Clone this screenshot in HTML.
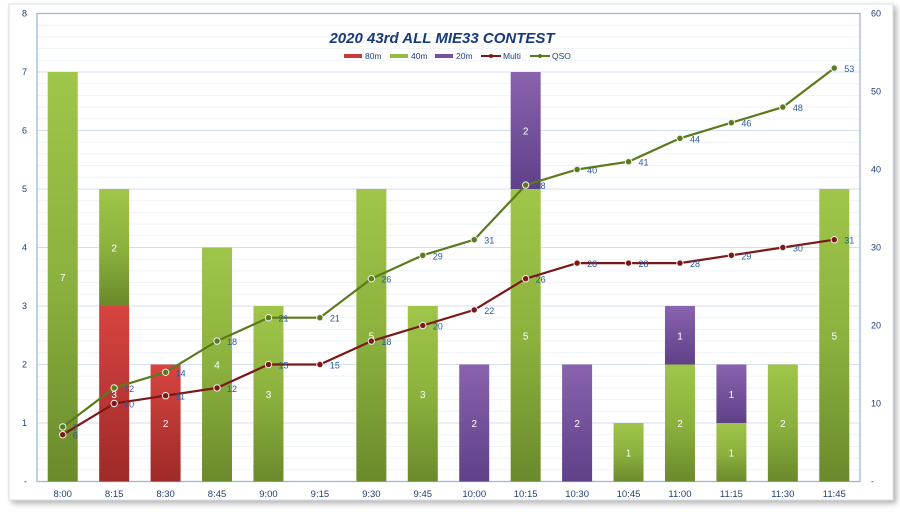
<!DOCTYPE html>
<html><head><meta charset="utf-8"><style>
html,body{margin:0;padding:0;background:#fff;}
svg{display:block;font-family:"Liberation Sans",sans-serif;}
</style></head><body>
<svg id="s" width="900" height="512" xmlns="http://www.w3.org/2000/svg">
<defs>
<linearGradient id="gG" x1="0" y1="0" x2="0" y2="1"><stop offset="0" stop-color="#9fc54a"/><stop offset="0.5" stop-color="#8cb23e"/><stop offset="1" stop-color="#6b8a2c"/></linearGradient>
<linearGradient id="gR" x1="0" y1="0" x2="0" y2="1"><stop offset="0" stop-color="#d84440"/><stop offset="1" stop-color="#9e2a28"/></linearGradient>
<linearGradient id="gP" x1="0" y1="0" x2="0" y2="1"><stop offset="0" stop-color="#8a63ad"/><stop offset="1" stop-color="#5f4189"/></linearGradient>
<filter id="sh" x="-5%" y="-5%" width="110%" height="110%"><feDropShadow dx="3" dy="3" stdDeviation="3" flood-color="#000" flood-opacity="0.3"/></filter>
</defs>
<rect x="9" y="4" width="884" height="496" fill="#fff" stroke="#d8e0ea" filter="url(#sh)"/>
<g id="g"></g>
</svg>
<script>
var g=document.getElementById('g'),h='';
var L=37,R=860,T=13.5,B=481.5,u=(B-T)/8;
function y8(v){return B-v*u}function y60(v){return B-v*(B-T)/60}
for(var i=0;i<=40;i++){var yy=B-i*u/5;if(i%5)h+='<line x1="'+L+'" x2="'+R+'" y1="'+yy+'" y2="'+yy+'" stroke="#eef2f8" stroke-width="1"/>';}
for(var i=1;i<=8;i++){var yy=y8(i);h+='<line x1="'+L+'" x2="'+R+'" y1="'+yy+'" y2="'+yy+'" stroke="#d3def0" stroke-width="1"/>';}
h+='<rect x="'+L+'" y="'+T+'" width="'+(R-L)+'" height="'+(B-T)+'" fill="none" stroke="#9fb6d8" stroke-width="1.3"/>';
for(var i=0;i<=8;i++)h+='<text x="27" y="'+(y8(i)+3)+'" font-size="9" fill="#1f3f7a" text-anchor="end">'+(i?i:'-')+'</text>';
for(var i=0;i<=6;i++)h+='<text x="871" y="'+(y8(i*8/6)+3)+'" font-size="9" fill="#1f3f7a">'+(i?i*10:'-')+'</text>';
var cats=['8:00','8:15','8:30','8:45','9:00','9:15','9:30','9:45','10:00','10:15','10:30','10:45','11:00','11:15','11:30','11:45'];
var r80=[0,3,2,0,0,0,0,0,0,0,0,0,0,0,0,0],g40=[7,2,0,4,3,0,5,3,0,5,0,1,2,1,2,5],p20=[0,0,0,0,0,0,0,0,2,2,2,0,1,1,0,0];
var Q=[7,12,14,18,21,21,26,29,31,38,40,41,44,46,48,53],M=[6,10,11,12,15,15,18,20,22,26,28,28,28,29,30,31];
var w=(R-L)/16;function cx(i){return L+w*(i+0.5)}
for(var i=0;i<16;i++){var x=cx(i),b=0;
 h+='<text x="'+x+'" y="497" font-size="9.5" fill="#1f3f7a" text-anchor="middle">'+cats[i]+'</text>';
 [[r80[i],'gR'],[g40[i],'gG'],[p20[i],'gP']].forEach(function(s){if(!s[0])return;var y1=y8(b+s[0]),y0=y8(b);
  h+='<rect x="'+(x-15)+'" y="'+y1+'" width="30" height="'+(y0-y1)+'" fill="url(#'+s[1]+')"/>';
  h+='<text x="'+x+'" y="'+((y0+y1)/2+4)+'" font-size="10" fill="#fff" text-anchor="middle">'+s[0]+'</text>';b+=s[0];});}
function line(d,c){var p=d.map(function(v,i){return cx(i)+','+y60(v)}).join(' ');
 h+='<polyline points="'+p+'" fill="none" stroke="'+c+'" stroke-width="2.2"/>';
 d.forEach(function(v,i){h+='<circle cx="'+cx(i)+'" cy="'+y60(v)+'" r="3.2" fill="'+c+'" stroke="#f0f0f0" stroke-width="1"/>';
 h+='<text x="'+(cx(i)+10)+'" y="'+(y60(v)+4)+'" font-size="9" fill="#2a5aa0">'+v+'</text>';});}
line(M,'#7b1717');line(Q,'#5b7a1c');
h+='<text x="442" y="43" font-size="15" font-weight="bold" font-style="italic" fill="#173a7a" text-anchor="middle">2020 43rd ALL MIE33 CONTEST</text>';
var lg=[['#c83a36','80m',344,'b'],['#92bb42','40m',390,'b'],['#7450a0','20m',435,'b'],['#7b1717','Multi',481,'l'],['#5b7a1c','QSO',530,'l']];
lg.forEach(function(l){if(l[3]=='b')h+='<rect x="'+l[2]+'" y="54" width="18" height="4" fill="'+l[0]+'"/>';
 else{h+='<line x1="'+l[2]+'" x2="'+(l[2]+20)+'" y1="56" y2="56" stroke="'+l[0]+'" stroke-width="2"/><circle cx="'+(l[2]+10)+'" cy="56" r="2" fill="'+l[0]+'"/>';}
 h+='<text x="'+(l[2]+(l[3]=='b'?21:22))+'" y="59" font-size="8.5" fill="#1f3f7a">'+l[1]+'</text>';});
g.innerHTML=h;
</script>
</body></html>
